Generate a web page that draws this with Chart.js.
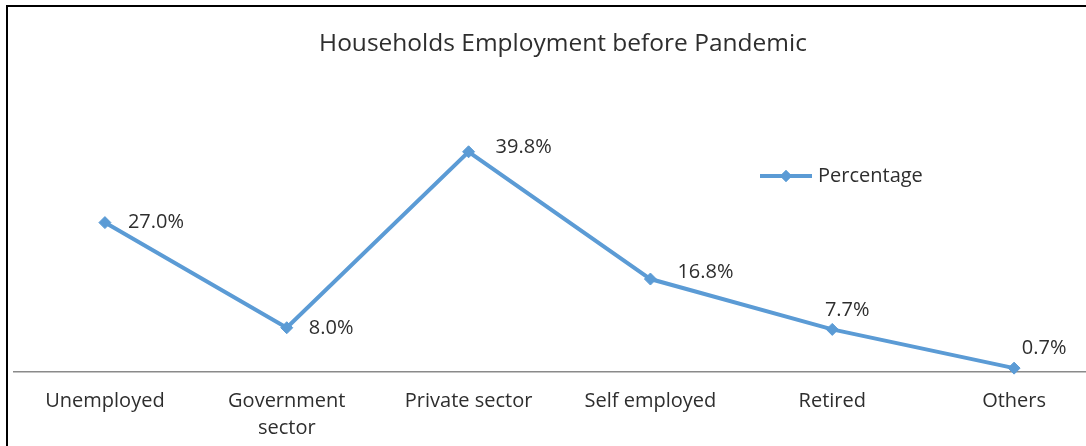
<!DOCTYPE html>
<html>
<head>
<meta charset="utf-8">
<script src="https://cdn.jsdelivr.net/npm/chart.js@4/dist/chart.umd.min.js"></script>
<style>
  html, body { margin: 0; padding: 0; background: #fff; overflow: hidden; width: 1086px; height: 446px; }
  .frame { position: absolute; left: 6px; top: 5px; width: 1200px; height: 600px; border: 2px solid #000; box-sizing: border-box; }
  .wrap { position: absolute; left: 0; top: 0; width: 1112px; height: 470px; }
</style>
</head>
<body>
<div class="frame"></div>
<div class="wrap"><canvas id="c" width="1112" height="470"></canvas></div>
<script>
// Household employment status before the pandemic
const categories = ['Unemployed', ['Government', 'sector'], 'Private sector', 'Self employed', 'Retired', 'Others'];
const percentage = [27.0, 8.0, 39.8, 16.8, 7.7, 0.7];
const seriesName = 'Percentage';
const chartTitle = 'Households Employment before Pandemic';

const FONT = "'Open Sans', 'Noto Sans', sans-serif";
const TEXT = '#2e2e2e';
const BLUE = '#5B9BD5';

// Value labels next to each marker
const valueLabels = {
  id: 'valueLabels',
  afterDatasetsDraw(chart, args, opts) {
    const ctx = chart.ctx;
    const meta = chart.getDatasetMeta(0);
    const values = chart.data.datasets[0].data;
    ctx.save();
    ctx.font = '20px ' + FONT;
    ctx.fillStyle = TEXT;
    ctx.textBaseline = 'middle';
    meta.data.forEach((pt, i) => {
      const nudge = opts.nudge[i];
      const txt = values[i].toFixed(1) + '%';
      ctx.textAlign = nudge.align;
      ctx.fillText(txt, pt.x + nudge.dx, pt.y + nudge.dy);
    });
    ctx.restore();
  }
};

// Legend drawn inside the plot area
const insideLegend = {
  id: 'insideLegend',
  afterDraw(chart, args, opts) {
    const ctx = chart.ctx;
    const ds = chart.data.datasets[0];
    const x = opts.x, y = opts.y;
    ctx.save();
    ctx.strokeStyle = ds.borderColor;
    ctx.lineWidth = ds.borderWidth;
    ctx.lineCap = 'butt';
    ctx.beginPath();
    ctx.moveTo(x, y);
    ctx.lineTo(x + 52, y);
    ctx.stroke();
    Chart.helpers.drawPoint(ctx, {
      pointStyle: ds.pointStyle, radius: ds.pointRadius, rotation: 0,
      borderWidth: 0
    }, x + 26, y);
    ctx.fillStyle = ds.pointBackgroundColor;
    ctx.fill();
    ctx.font = '20px ' + FONT;
    ctx.fillStyle = TEXT;
    ctx.textAlign = 'left';
    ctx.textBaseline = 'middle';
    ctx.fillText(ds.label, x + 58, y);
    ctx.restore();
  }
};

new Chart(document.getElementById('c'), {
  type: 'line',
  data: {
    labels: categories,
    datasets: [{
      label: seriesName,
      data: percentage,
      borderColor: BLUE,
      borderWidth: 4,
      backgroundColor: BLUE,
      pointStyle: 'rectRot',
      pointRadius: 6,
      pointBackgroundColor: BLUE,
      pointBorderColor: BLUE,
      pointBorderWidth: 1,
      tension: 0,
      clip: false
    }]
  },
  options: {
    responsive: false,
    animation: false,
    events: [],
    layout: { padding: { left: 14, right: 0, top: 0, bottom: 0 } },
    plugins: {
      legend: { display: false },
      tooltip: { enabled: false },
      title: {
        display: true,
        text: chartTitle,
        color: TEXT,
        font: { family: FONT, size: 24.5, weight: 'normal', lineHeight: 1.2 },
        padding: { top: 29, bottom: 64.6 }
      },
      valueLabels: {
        nudge: [
          { dx: 23, dy: 0, align: 'left' },
          { dx: 22, dy: 1, align: 'left' },
          { dx: 27, dy: -4, align: 'left' },
          { dx: 27, dy: -7, align: 'left' },
          { dx: 15, dy: -19, align: 'center' },
          { dx: 30, dy: -20, align: 'center' }
        ]
      },
      insideLegend: { x: 760, y: 176 }
    },
    scales: {
      x: {
        type: 'category',
        offset: true,
        grid: { display: false, drawTicks: false },
        border: { display: true, color: '#8a8a8a', width: 1.5 },
        ticks: {
          color: TEXT,
          padding: 16,
          maxRotation: 0,
          autoSkip: false,
          font: { family: FONT, size: 20, lineHeight: 1.35 }
        },
        afterFit(scale) { scale.height = 98; }
      },
      y: {
        display: false,
        min: 0,
        max: 45
      }
    }
  },
  plugins: [valueLabels, insideLegend]
});
</script>
</body>
</html>
